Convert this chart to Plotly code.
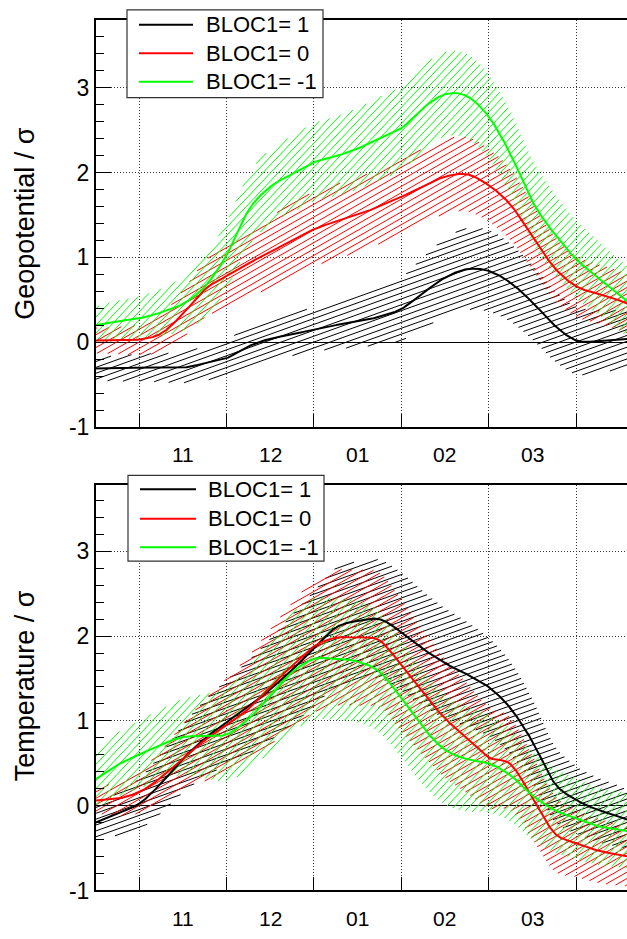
import numpy as np
import plotly.graph_objects as go

# ---------------- data ----------------
# x in "month units": 1 = start of Nov, 2 = start of Dec, ... 6 = start of Apr
x_pos = [0.5, 0.75, 1.0, 1.25, 1.5, 1.75, 2.0, 2.25, 2.5, 2.75, 3.0, 3.25, 3.5,
         3.75, 4.0, 4.25, 4.5, 4.75, 5.0, 5.25, 5.5, 5.75, 6.0, 6.25, 6.5, 6.6]
month_bounds = [1, 2, 3, 4, 5, 6]
month_labels = ["11", "12", "01", "02", "03"]
y_ticks = [-1, 0, 1, 2, 3]
y_tick_text = ["-1", "0", "1", "2", "3"]
series_labels = ["BLOC1= 1", "BLOC1= 0", "BLOC1= -1"]

geo_mean_p1 = [-0.31, -0.31, -0.30, -0.30, -0.30, -0.25, -0.19, -0.05, 0.04, 0.09, 0.15, 0.20, 0.24,
               0.30, 0.39, 0.58, 0.76, 0.86, 0.84, 0.70, 0.47, 0.20, 0.02, 0.01, 0.03, 0.04]
geo_sprd_p1 = [0.14, 0.15, 0.16, 0.17, 0.18, 0.20, 0.22, 0.23, 0.24, 0.25, 0.26, 0.28, 0.30,
               0.33, 0.37, 0.42, 0.46, 0.48, 0.48, 0.46, 0.44, 0.42, 0.40, 0.37, 0.35, 0.34]
geo_mean_0 = [0.02, 0.02, 0.03, 0.10, 0.33, 0.62, 0.78, 0.93, 1.06, 1.20, 1.33, 1.42, 1.50,
              1.60, 1.71, 1.84, 1.95, 1.98, 1.85, 1.62, 1.25, 0.88, 0.66, 0.57, 0.49, 0.45]
geo_sprd_0 = [0.15, 0.16, 0.18, 0.22, 0.28, 0.33, 0.37, 0.40, 0.42, 0.43, 0.44, 0.44, 0.44,
              0.44, 0.44, 0.44, 0.44, 0.44, 0.43, 0.42, 0.40, 0.38, 0.36, 0.35, 0.35, 0.35]
geo_mean_m1 = [0.20, 0.25, 0.28, 0.35, 0.45, 0.65, 1.02, 1.55, 1.83, 1.98, 2.12, 2.19, 2.28,
               2.40, 2.52, 2.76, 2.92, 2.90, 2.66, 2.22, 1.66, 1.28, 0.98, 0.76, 0.55, 0.47]
geo_sprd_m1 = [0.22, 0.24, 0.26, 0.28, 0.32, 0.36, 0.40, 0.42, 0.44, 0.45, 0.46, 0.47, 0.48,
               0.49, 0.50, 0.50, 0.50, 0.50, 0.50, 0.50, 0.50, 0.48, 0.46, 0.44, 0.42, 0.42]

tmp_mean_p1 = [-0.20, -0.10, 0.02, 0.26, 0.55, 0.79, 0.98, 1.16, 1.37, 1.60, 1.85, 2.10, 2.18,
               2.20, 2.05, 1.85, 1.68, 1.55, 1.40, 1.15, 0.76, 0.27, 0.07, -0.05, -0.13, -0.17]
tmp_sprd_p1 = [0.20, 0.25, 0.30, 0.35, 0.40, 0.45, 0.50, 0.55, 0.60, 0.65, 0.68, 0.70, 0.70,
               0.70, 0.70, 0.68, 0.65, 0.62, 0.58, 0.55, 0.50, 0.45, 0.40, 0.38, 0.36, 0.35]
tmp_mean_0 = [0.06, 0.08, 0.16, 0.33, 0.56, 0.77, 0.95, 1.14, 1.40, 1.65, 1.88, 1.98, 1.98,
              1.95, 1.66, 1.33, 1.03, 0.80, 0.57, 0.49, 0.10, -0.32, -0.44, -0.53, -0.58, -0.60]
tmp_sprd_0 = [0.15, 0.20, 0.25, 0.32, 0.40, 0.48, 0.55, 0.62, 0.68, 0.74, 0.78, 0.80, 0.80,
              0.80, 0.78, 0.74, 0.70, 0.65, 0.60, 0.55, 0.50, 0.45, 0.40, 0.38, 0.36, 0.35]
tmp_mean_m1 = [0.31, 0.48, 0.60, 0.72, 0.81, 0.82, 0.84, 1.02, 1.29, 1.57, 1.73, 1.73, 1.70,
               1.58, 1.27, 0.92, 0.66, 0.55, 0.50, 0.36, 0.12, -0.05, -0.15, -0.24, -0.28, -0.30]
tmp_sprd_m1 = [0.35, 0.38, 0.40, 0.42, 0.45, 0.50, 0.55, 0.60, 0.65, 0.70, 0.72, 0.72, 0.72,
               0.72, 0.70, 0.68, 0.65, 0.62, 0.58, 0.55, 0.52, 0.50, 0.48, 0.46, 0.45, 0.45]

# ---------------- styling ----------------
W, H = 627, 939
colors = ["#000000", "#ff0000", "#00ff00"]
hatch_angles = [20, 30, 47]
FONT = "Liberation Sans, Arial, sans-serif"
X0, X1 = 96, 627                       # plot area in px
TOP = (20, 433)
BOT = (492, 903)
XR = [0.508, 6.583]
YR_TOP = [-1, 3.8]
YR_BOT = [-1, 3.78]
SX = (X1 - X0) / (XR[1] - XR[0])
SY = (TOP[1] - TOP[0]) / (YR_TOP[1] - YR_TOP[0])


def hermite(x, y, xd):
    x = np.asarray(x, float)
    y = np.asarray(y, float)
    m = np.gradient(y, x)
    idx = np.clip(np.searchsorted(x, xd) - 1, 0, len(x) - 2)
    h = x[idx + 1] - x[idx]
    t = (xd - x[idx]) / h
    h00 = 2 * t**3 - 3 * t**2 + 1
    h10 = t**3 - 2 * t**2 + t
    h01 = -2 * t**3 + 3 * t**2
    h11 = t**3 - t**2
    return h00 * y[idx] + h10 * h * m[idx] + h01 * y[idx + 1] + h11 * h * m[idx + 1]


def hatch(xd, lo, hi, angle_deg, spacing_px, phase=0.0):
    px = xd * SX
    ylo = lo * SY
    yhi = hi * SY
    t = np.tan(np.radians(angle_deg))
    step = spacing_px / np.cos(np.radians(angle_deg))
    bmin = np.min(ylo - px * t)
    bmax = np.max(yhi - px * t)
    bs = np.arange(np.floor(bmin / step) * step + phase, bmax + step, step)
    yl = px[None, :] * t + bs[:, None]
    inside = (yl >= ylo[None, :]) & (yl <= yhi[None, :])
    xo, yo = [], []
    for i in range(len(bs)):
        m = inside[i].astype(np.int8)
        d = np.diff(np.concatenate([[0], m, [0]]))
        starts = np.where(d == 1)[0]
        ends = np.where(d == -1)[0] - 1
        for s, e in zip(starts, ends):
            if e > s:
                xo += [xd[s], xd[e], None]
                yo += [yl[i, s] / SY, yl[i, e] / SY, None]
    return xo, yo


xd = np.linspace(x_pos[0], x_pos[-1], 2400)
fig = go.Figure()

panels = [
    ("x", "y", [geo_mean_p1, geo_mean_0, geo_mean_m1], [geo_sprd_p1, geo_sprd_0, geo_sprd_m1]),
    ("x2", "y2", [tmp_mean_p1, tmp_mean_0, tmp_mean_m1], [tmp_sprd_p1, tmp_sprd_0, tmp_sprd_m1]),
]
for xa, ya, means, sprds in panels:
    for k in range(3):
        mean_d = hermite(x_pos, means[k], xd)
        sprd_d = hermite(x_pos, sprds[k], xd)
        hx, hy = hatch(xd, mean_d - sprd_d, mean_d + sprd_d, hatch_angles[k], 5.6, phase=1.3 * k)
        fig.add_trace(go.Scatter(x=hx, y=hy, mode="lines", xaxis=xa, yaxis=ya,
                                 line=dict(color=colors[k], width=1), showlegend=False,
                                 hoverinfo="skip", connectgaps=False))
    for k in range(3):
        mean_d = hermite(x_pos, means[k], xd)
        fig.add_trace(go.Scatter(x=xd, y=mean_d, mode="lines", xaxis=xa, yaxis=ya,
                                 line=dict(color=colors[k], width=2), name=series_labels[k],
                                 showlegend=False))


def xaxis_cfg(anchor):
    return dict(range=XR, domain=[X0 / W, X1 / W], anchor=anchor,
                tickmode="array", tickvals=month_bounds, ticktext=[""] * len(month_bounds),
                ticks="inside", ticklen=13, tickwidth=1, tickcolor="black",
                showgrid=True, griddash="1px,2px", gridcolor="#333333", gridwidth=1,
                showline=True, linecolor="black", linewidth=2, mirror=True,
                zeroline=False, fixedrange=True)


def yaxis_cfg(anchor, rng, dom):
    return dict(range=rng, domain=dom, anchor=anchor,
                tickmode="array", tickvals=y_ticks, ticktext=y_tick_text,
                ticks="inside", ticklen=15, tickwidth=1, tickcolor="black",
                minor=dict(dtick=0.2, tick0=0, ticks="inside", ticklen=8, tickcolor="black",
                           showgrid=False),
                showgrid=True, griddash="1px,2px", gridcolor="#333333", gridwidth=1,
                zeroline=True, zerolinecolor="black", zerolinewidth=1,
                showline=True, linecolor="black", linewidth=2,
                tickfont=dict(size=23, color="black", family=FONT), fixedrange=True)


fig.update_layout(
    width=W, height=H, margin=dict(l=0, r=0, t=0, b=0),
    paper_bgcolor="white", plot_bgcolor="white",
    font=dict(family=FONT, color="black"),
    xaxis=xaxis_cfg("y"),
    yaxis=yaxis_cfg("x", YR_TOP, [1 - TOP[1] / H, 1 - TOP[0] / H]),
    xaxis2=xaxis_cfg("y2"),
    yaxis2=yaxis_cfg("x2", YR_BOT, [1 - BOT[1] / H, 1 - BOT[0] / H]),
    showlegend=False,
)

annotations = []
shapes = []
# month labels centred between month boundaries
for (plot_bottom, xref) in [(TOP[1], "x"), (BOT[1], "x2")]:
    for i, lab in enumerate(month_labels):
        annotations.append(dict(x=(month_bounds[i] + month_bounds[i + 1]) / 2, xref=xref,
                                y=1 - (plot_bottom + 28) / H, yref="paper",
                                text=lab, showarrow=False, xanchor="center", yanchor="middle",
                                font=dict(size=21, family=FONT, color="black")))

# axis titles
for title, (a, b), yc in [("Geopotential / σ", TOP, 227), ("Temperature / σ", BOT, 696)]:
    annotations.append(dict(x=25 / W, xref="paper", y=1 - yc / H, yref="paper",
                            text=title, textangle=-90, showarrow=False,
                            xanchor="center", yanchor="middle",
                            font=dict(size=27, family=FONT, color="black")))

# legends (box, line samples, labels)
for (bx0, by0, bx1, by1, lx0, lx1, tx, rows) in [
        (127, 10, 323, 99, 139, 193, 204, [25, 54, 83]),
        (128, 482, 324, 569, 140, 196, 206, [496, 526, 555])]:
    shapes.append(dict(type="rect", xref="paper", yref="paper",
                       x0=bx0 / W, x1=bx1 / W, y0=1 - by1 / H, y1=1 - by0 / H,
                       fillcolor="white", line=dict(color="#333333", width=1.2), layer="above"))
    for k in range(3):
        shapes.append(dict(type="line", xref="paper", yref="paper",
                           x0=lx0 / W, x1=lx1 / W, y0=1 - rows[k] / H, y1=1 - rows[k] / H,
                           line=dict(color=colors[k], width=2), layer="above"))
        annotations.append(dict(x=tx / W, xref="paper", y=1 - rows[k] / H, yref="paper",
                                text=series_labels[k], showarrow=False,
                                xanchor="left", yanchor="middle",
                                font=dict(size=22, family=FONT, color="black")))

fig.update_layout(annotations=annotations, shapes=shapes)
fig.write_html("out.html")
